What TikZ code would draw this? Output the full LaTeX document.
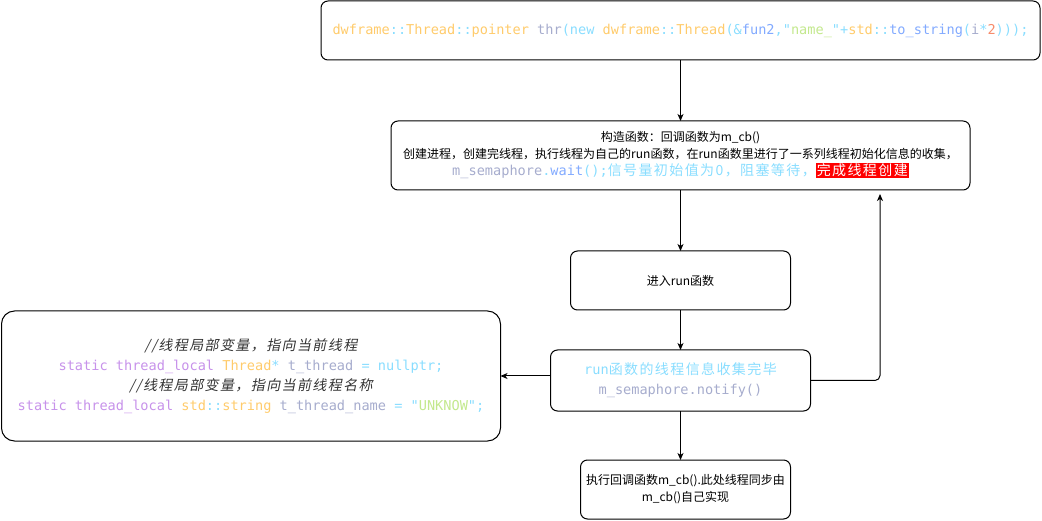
\documentclass[tikz,border=0pt]{standalone}
\usepackage{fontspec}
\setmainfont{Noto Sans CJK SC}
\setmonofont{DejaVu Sans Mono}
\newfontfamily\cjkcode{Noto Sans CJK SC}[LetterSpace=10]
\newfontfamily\cjkslant{Noto Sans CJK SC}[LetterSpace=10,FakeSlant=0.2]
\usetikzlibrary{arrows.meta,positioning}

% code colours
\definecolor{cyel}{HTML}{FFCB6B}
\definecolor{ccyan}{HTML}{89DDFF}
\definecolor{clav}{HTML}{A6ACCD}
\definecolor{cblue}{HTML}{82AAFF}
\definecolor{cgreen}{HTML}{C3E88D}
\definecolor{corange}{HTML}{F78C6C}
\definecolor{cpurple}{HTML}{C792EA}
\definecolor{ccomment}{HTML}{333333}
\newcommand{\cY}[1]{\textcolor{cyel}{#1}}
\newcommand{\cC}[1]{\textcolor{ccyan}{#1}}
\newcommand{\cL}[1]{\textcolor{clav}{#1}}
\newcommand{\cB}[1]{\textcolor{cblue}{#1}}
\newcommand{\cG}[1]{\textcolor{cgreen}{#1}}
\newcommand{\cO}[1]{\textcolor{corange}{#1}}
\newcommand{\cP}[1]{\textcolor{cpurple}{#1}}
\newcommand{\codecjk}[1]{{\cjkcode\fontsize{14}{18}\selectfont #1}}
\newcommand{\codenote}[1]{{\cjkslant\fontsize{14}{18}\selectfont\color{ccomment}#1}}
\setlength{\fboxsep}{1pt}

\begin{document}
\begin{tikzpicture}
[x=1pt, y=-1pt,
% STYLES
% The stepbox style is used for every rounded box
stepbox/.style={rectangle, rounded corners=7pt, draw, line width=1pt, outer sep=0pt, align=center, inner sep=3pt, font=\fontsize{12}{17}\selectfont},
% The code style sets the monospaced lines
code/.style={font=\ttfamily\fontsize{13.6}{20}\selectfont},
arrow/.style={-{Stealth[length=7pt,width=6pt,inset=2pt]}, line width=1pt}]

\useasboundingbox (0,0) rectangle (1042,521);

% Draw boxes
\node [stepbox, code, minimum width=719pt, minimum height=59pt] (ctor) at (680.5,30.5)
{\cY{dwframe}\cC{::}\cY{Thread}\cC{::}\cY{pointer} \cL{thr}\cC{(new} \cY{dwframe}\cC{::}\cY{Thread}\cC{(\&}\cB{fun2}\cC{,"}\cG{name\_}\cC{"+}\cY{std}\cC{::}\cB{to\_string}\cC{(}\cL{i}\cC{*}\cO{2}\cC{)));}};

\node [stepbox, minimum width=579pt, minimum height=69pt, below=61pt of ctor] (init)
{构造函数：回调函数为m\_cb()\\
 创建进程，创建完线程，执行线程为自己的run函数，在run函数里进行了一系列线程初始化信息的收集，\\
 {\ttfamily\fontsize{13.6}{17}\selectfont\cL{m\_semaphore}\cC{.}\cB{wait}\cC{();}}\codecjk{\color{ccyan}信号量初始值为0，阻塞等待，}\colorbox{red}{\codecjk{\color{white}完成线程创建}}};

\node [stepbox, minimum width=220pt, minimum height=59pt, below=61pt of init] (enter) {进入run函数};

\node [stepbox, code, minimum width=260pt, minimum height=61pt, below=40pt of enter] (done)
{\cC{run}\codecjk{\color{ccyan}函数的线程信息收集完毕}\\
 \cL{m\_semaphore.notify()}};

\node [stepbox, code, rounded corners=13pt, minimum width=499pt, minimum height=130pt, left=50pt of done, yshift=4.5pt] (tls)
{\codenote{//线程局部变量，指向当前线程}\\
 \cP{static thread\_local} \cY{Thread}\cC{*} \cL{t\_thread} \cC{=} \cC{nullptr;}\\
 \codenote{//线程局部变量，指向当前线程名称}\\
 \cP{static thread\_local} \cY{std}\cC{::}\cY{string} \cL{t\_thread\_name} \cC{=} \cC{"}\cG{UNKNOW}\cC{";}};

\node [stepbox, minimum width=210pt, minimum height=59pt, below=49pt of done, xshift=5pt] (cb)
{执行回调函数m\_cb().此处线程同步由\\ m\_cb()自己实现};

% free end of the return line
\coordinate (back) at ([xshift=199.5pt,yshift=-4pt]init.south);

% Draw the links between boxes
\path[arrow]
(ctor) edge (init)
(init) edge (enter)
(enter) edge (done);

\draw[arrow] (done.south) -- (done.south |- cb.north);
\draw[arrow] (done.west |- tls.east) -- (tls.east);
\draw[arrow, rounded corners=5pt] (done.east) -| (back);

\end{tikzpicture}
\end{document}
